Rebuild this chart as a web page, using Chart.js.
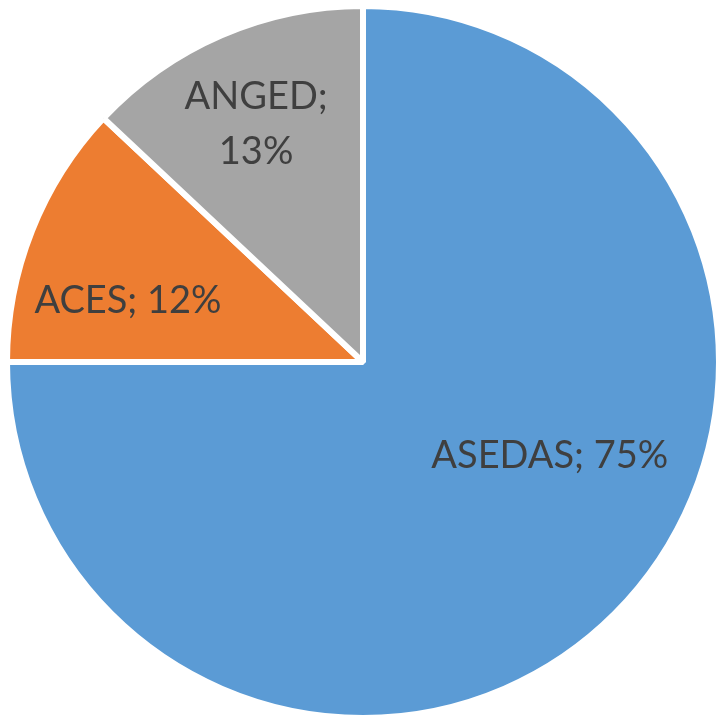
<!DOCTYPE html>
<html>
<head>
<meta charset="utf-8">
<script src="https://cdn.jsdelivr.net/npm/chart.js@4/dist/chart.umd.min.js"></script>
<style>
  html, body { margin: 0; padding: 0; background: #fff; }
  #wrap { width: 718px; height: 716px; }
</style>
</head>
<body>
<div id="wrap"><canvas id="chart"></canvas></div>
<script>
// Datos del gráfico
const categorias = ['ASEDAS', 'ACES', 'ANGED'];
const valores = [75, 12, 13];
const colores = ['#5B9BD5', '#ED7D31', '#A5A5A5'];

// Posición de cada etiqueta: ángulo (grados, sentido canvas) y fracción del radio
const etiquetaAngulo = [26.7, 194.6, 245.8];
const etiquetaRadio = [0.594, 0.69, 0.741];
// Texto de etiquetas (ANGED en dos líneas como en el original)
const etiquetaLineas = [
  ['ASEDAS; 75%'],
  ['ACES; 12%'],
  ['ANGED;', '13%']
];

// Plugin para dibujar las etiquetas de datos
const etiquetasPlugin = {
  id: 'etiquetas',
  afterDatasetsDraw(chart) {
    const ctx = chart.ctx;
    const meta = chart.getDatasetMeta(0);
    ctx.save();
    ctx.font = '38px Lato';
    ctx.fillStyle = '#3f3f3f';
    ctx.textAlign = 'center';
    ctx.textBaseline = 'middle';
    meta.data.forEach(function(arc, i) {
      const r = 352 * etiquetaRadio[i];
      const a = etiquetaAngulo[i] * Math.PI / 180;
      const x = arc.x + r * Math.cos(a);
      const y = arc.y + r * Math.sin(a);
      const lineas = etiquetaLineas[i];
      const alto = 55;
      lineas.forEach(function(t, j) {
        const yy = y + (j - (lineas.length - 1) / 2) * alto;
        ctx.fillText(t, x, yy);
      });
    });
    ctx.restore();
  }
};

const ctx = document.getElementById('chart').getContext('2d');
new Chart(ctx, {
  type: 'pie',
  data: {
    labels: categorias,
    datasets: [{
      data: valores,
      backgroundColor: colores,
      borderColor: '#ffffff',
      borderWidth: 6
    }]
  },
  options: {
    responsive: true,
    maintainAspectRatio: false,
    animation: false,
    radius: 356,
    layout: { padding: { left: 8, right: 0, top: 8, bottom: 0 } },
    plugins: {
      legend: { display: false },
      tooltip: { enabled: false }
    }
  },
  plugins: [etiquetasPlugin]
});
</script>
</body>
</html>
